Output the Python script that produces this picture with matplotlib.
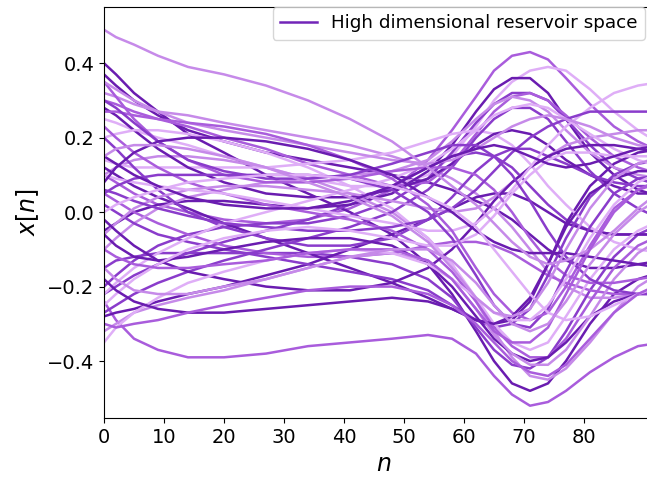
import matplotlib
matplotlib.use('Agg')
import matplotlib.pyplot as plt

# 샘플 위치 (n)
n_nodes = [0, 2, 5, 9, 14, 20, 27, 34, 41, 48, 54, 58, 62, 65, 68, 71, 74, 77, 81, 85, 89, 93]

# 색상 단계 (0 = 진한 보라 ... 4 = 연한 라벤더)
palette = ['#6a1cb0', '#8a3ccb', '#a95cdc', '#c68ae9', '#dfaef7']

# 위로 봉우리를 만드는 상태들
peak_states = [
    (2, [0.10, 0.08, 0.05, 0.02, 0.00, -0.02, -0.03, -0.02, 0.01, 0.06, 0.14, 0.22, 0.31, 0.38, 0.42, 0.43, 0.41, 0.36, 0.29, 0.23, 0.19, 0.16]),
    (4, [0.25, 0.24, 0.22, 0.20, 0.18, 0.15, 0.12, 0.09, 0.07, 0.07, 0.10, 0.15, 0.23, 0.30, 0.35, 0.38, 0.39, 0.38, 0.33, 0.27, 0.22, 0.18]),
    (0, [-0.05, -0.03, 0.00, 0.02, 0.03, 0.03, 0.02, 0.01, 0.02, 0.05, 0.11, 0.18, 0.27, 0.33, 0.36, 0.36, 0.32, 0.25, 0.16, 0.10, 0.06, 0.04]),
    (1, [-0.20, -0.17, -0.13, -0.09, -0.06, -0.04, -0.03, -0.03, -0.01, 0.03, 0.09, 0.16, 0.24, 0.29, 0.32, 0.32, 0.30, 0.25, 0.18, 0.12, 0.09, 0.07]),
    (2, [0.30, 0.29, 0.27, 0.25, 0.23, 0.20, 0.17, 0.13, 0.10, 0.07, 0.08, 0.13, 0.21, 0.27, 0.31, 0.32, 0.30, 0.26, 0.20, 0.15, 0.12, 0.10]),
    (3, [-0.10, -0.07, -0.03, 0.01, 0.04, 0.06, 0.08, 0.09, 0.10, 0.11, 0.14, 0.19, 0.25, 0.29, 0.31, 0.30, 0.27, 0.22, 0.16, 0.12, 0.10, 0.09]),
    (0, [0.28, 0.26, 0.22, 0.17, 0.12, 0.08, 0.05, 0.04, 0.04, 0.06, 0.09, 0.13, 0.18, 0.21, 0.22, 0.21, 0.18, 0.14, 0.10, 0.07, 0.05, 0.05]),
    (1, [-0.27, -0.25, -0.22, -0.19, -0.16, -0.13, -0.10, -0.07, -0.04, 0.00, 0.06, 0.12, 0.20, 0.25, 0.28, 0.28, 0.25, 0.19, 0.11, 0.05, 0.01, -0.02]),
    (4, [-0.22, -0.19, -0.15, -0.11, -0.07, -0.03, 0.00, 0.03, 0.06, 0.09, 0.13, 0.17, 0.22, 0.26, 0.28, 0.29, 0.28, 0.25, 0.21, 0.17, 0.14, 0.12]),
    (4, [0.10, 0.09, 0.08, 0.07, 0.06, 0.05, 0.03, 0.01, -0.01, -0.03, -0.05, -0.05, -0.03, 0.01, 0.06, 0.12, 0.18, 0.23, 0.28, 0.32, 0.34, 0.35]),
    (1, [0.06, 0.05, 0.03, 0.01, -0.01, -0.03, -0.04, -0.05, -0.05, -0.04, -0.02, 0.01, 0.06, 0.11, 0.16, 0.20, 0.23, 0.25, 0.27, 0.27, 0.27, 0.27]),
    (3, [0.35, 0.33, 0.30, 0.27, 0.24, 0.22, 0.20, 0.18, 0.16, 0.14, 0.13, 0.14, 0.17, 0.20, 0.23, 0.25, 0.26, 0.25, 0.23, 0.20, 0.18, 0.17]),
    (0, [0.15, 0.13, 0.10, 0.07, 0.04, 0.02, 0.01, 0.01, 0.03, 0.07, 0.12, 0.15, 0.17, 0.18, 0.17, 0.15, 0.13, 0.12, 0.13, 0.15, 0.17, 0.18]),
]

# 아래로 골짜기를 만드는 상태들
trough_states = [
    (2, [-0.24, -0.29, -0.34, -0.37, -0.39, -0.39, -0.38, -0.36, -0.35, -0.34, -0.33, -0.34, -0.38, -0.44, -0.49, -0.52, -0.51, -0.48, -0.43, -0.39, -0.36, -0.35]),
    (0, [0.40, 0.37, 0.32, 0.27, 0.21, 0.16, 0.10, 0.05, 0.00, -0.06, -0.14, -0.22, -0.32, -0.40, -0.46, -0.48, -0.46, -0.40, -0.30, -0.22, -0.18, -0.16]),
    (3, [0.10, 0.12, 0.14, 0.15, 0.15, 0.14, 0.12, 0.09, 0.05, 0.00, -0.07, -0.14, -0.24, -0.32, -0.39, -0.44, -0.45, -0.42, -0.35, -0.27, -0.20, -0.16]),
    (1, [-0.15, -0.13, -0.12, -0.11, -0.11, -0.11, -0.11, -0.11, -0.12, -0.14, -0.18, -0.23, -0.31, -0.37, -0.41, -0.42, -0.39, -0.32, -0.21, -0.12, -0.06, -0.03]),
    (0, [0.12, 0.10, 0.07, 0.04, 0.01, -0.03, -0.07, -0.11, -0.15, -0.19, -0.23, -0.26, -0.29, -0.30, -0.29, -0.24, -0.14, -0.03, 0.07, 0.13, 0.16, 0.17]),
    (1, [0.02, 0.00, -0.03, -0.06, -0.08, -0.10, -0.12, -0.14, -0.16, -0.18, -0.21, -0.25, -0.29, -0.31, -0.30, -0.26, -0.17, -0.07, 0.04, 0.10, 0.13, 0.14]),
    (4, [0.20, 0.21, 0.22, 0.22, 0.21, 0.19, 0.16, 0.12, 0.07, 0.01, -0.07, -0.14, -0.23, -0.30, -0.35, -0.37, -0.35, -0.28, -0.18, -0.10, -0.05, -0.02]),
    (2, [0.23, 0.20, 0.16, 0.12, 0.08, 0.05, 0.02, 0.00, -0.02, -0.05, -0.10, -0.16, -0.24, -0.31, -0.36, -0.39, -0.39, -0.34, -0.24, -0.15, -0.09, -0.06]),
    (0, [-0.06, -0.09, -0.12, -0.13, -0.12, -0.10, -0.08, -0.07, -0.07, -0.09, -0.14, -0.20, -0.28, -0.34, -0.38, -0.40, -0.39, -0.35, -0.28, -0.24, -0.22, -0.21]),
    (3, [-0.32, -0.30, -0.27, -0.25, -0.23, -0.21, -0.18, -0.15, -0.12, -0.11, -0.13, -0.18, -0.26, -0.33, -0.38, -0.41, -0.41, -0.37, -0.28, -0.18, -0.11, -0.07]),
    (1, [0.05, 0.07, 0.09, 0.10, 0.10, 0.10, 0.10, 0.10, 0.09, 0.06, 0.00, -0.07, -0.17, -0.25, -0.30, -0.31, -0.26, -0.16, -0.04, 0.05, 0.09, 0.10]),
    (2, [0.27, 0.27, 0.26, 0.25, 0.24, 0.23, 0.21, 0.18, 0.14, 0.09, 0.02, -0.05, -0.15, -0.22, -0.27, -0.29, -0.27, -0.20, -0.09, 0.01, 0.06, 0.08]),
    (4, [-0.35, -0.31, -0.27, -0.23, -0.19, -0.16, -0.13, -0.11, -0.10, -0.11, -0.14, -0.18, -0.23, -0.27, -0.29, -0.29, -0.25, -0.18, -0.07, 0.02, 0.08, 0.11]),
    (0, [-0.18, -0.21, -0.24, -0.26, -0.27, -0.27, -0.26, -0.25, -0.24, -0.23, -0.24, -0.26, -0.29, -0.30, -0.28, -0.23, -0.14, -0.04, 0.05, 0.09, 0.11, 0.11]),
    (3, [0.15, 0.17, 0.18, 0.18, 0.17, 0.15, 0.12, 0.08, 0.04, -0.01, -0.08, -0.15, -0.23, -0.27, -0.28, -0.26, -0.19, -0.10, 0.01, 0.09, 0.13, 0.15]),
    (2, [-0.10, -0.12, -0.14, -0.15, -0.15, -0.14, -0.13, -0.11, -0.10, -0.10, -0.13, -0.18, -0.26, -0.32, -0.35, -0.35, -0.31, -0.22, -0.10, 0.00, 0.06, 0.09]),
    (3, [-0.15, -0.18, -0.21, -0.22, -0.22, -0.20, -0.18, -0.15, -0.12, -0.10, -0.10, -0.13, -0.19, -0.25, -0.30, -0.32, -0.30, -0.24, -0.14, -0.06, 0.00, 0.04]),
    (2, [-0.30, -0.31, -0.30, -0.29, -0.27, -0.25, -0.23, -0.21, -0.20, -0.20, -0.22, -0.25, -0.30, -0.35, -0.40, -0.43, -0.44, -0.41, -0.34, -0.27, -0.22, -0.19]),
]

# 완만하게 움직이는 상태들
flat_states = [
    (0, [0.37, 0.34, 0.30, 0.26, 0.22, 0.19, 0.16, 0.14, 0.12, 0.10, 0.08, 0.06, 0.03, 0.01, -0.02, -0.06, -0.10, -0.13, -0.15, -0.15, -0.14, -0.13]),
    (1, [-0.22, -0.20, -0.17, -0.14, -0.11, -0.08, -0.05, -0.02, 0.02, 0.07, 0.12, 0.15, 0.16, 0.15, 0.12, 0.07, 0.02, -0.02, -0.05, -0.06, -0.06, -0.06]),
    (3, [0.32, 0.31, 0.29, 0.27, 0.26, 0.24, 0.22, 0.20, 0.18, 0.15, 0.12, 0.09, 0.05, 0.01, -0.04, -0.10, -0.16, -0.20, -0.23, -0.23, -0.22, -0.21]),
    (2, [0.05, 0.03, 0.00, -0.03, -0.06, -0.09, -0.11, -0.12, -0.12, -0.11, -0.09, -0.08, -0.08, -0.09, -0.11, -0.14, -0.17, -0.19, -0.21, -0.22, -0.22, -0.22]),
    (0, [-0.28, -0.27, -0.26, -0.24, -0.22, -0.20, -0.17, -0.14, -0.10, -0.06, -0.02, 0.01, 0.04, 0.05, 0.05, 0.03, 0.00, -0.03, -0.05, -0.06, -0.06, -0.06]),
    (4, [0.14, 0.13, 0.12, 0.12, 0.12, 0.12, 0.12, 0.13, 0.14, 0.16, 0.19, 0.21, 0.22, 0.21, 0.18, 0.13, 0.07, 0.02, -0.04, -0.08, -0.10, -0.11]),
    (1, [0.20, 0.17, 0.12, 0.06, 0.00, -0.04, -0.07, -0.09, -0.09, -0.07, -0.02, 0.04, 0.11, 0.15, 0.17, 0.17, 0.15, 0.13, 0.10, 0.08, 0.07, 0.07]),
    (3, [-0.06, -0.03, 0.01, 0.04, 0.06, 0.07, 0.07, 0.06, 0.05, 0.03, 0.01, 0.00, 0.01, 0.04, 0.08, 0.12, 0.15, 0.18, 0.20, 0.21, 0.22, 0.22]),
    (0, [-0.02, -0.05, -0.09, -0.13, -0.16, -0.18, -0.20, -0.21, -0.21, -0.19, -0.15, -0.10, -0.03, 0.03, 0.08, 0.12, 0.15, 0.17, 0.18, 0.18, 0.17, 0.16]),
    (2, [0.35, 0.31, 0.25, 0.19, 0.14, 0.10, 0.08, 0.08, 0.09, 0.11, 0.12, 0.12, 0.10, 0.06, 0.00, -0.07, -0.13, -0.17, -0.19, -0.19, -0.18, -0.17]),
    (4, [-0.25, -0.22, -0.18, -0.14, -0.10, -0.07, -0.05, -0.04, -0.05, -0.07, -0.09, -0.09, -0.06, -0.01, 0.05, 0.10, 0.14, 0.16, 0.16, 0.15, 0.15, 0.15]),
    (1, [0.30, 0.28, 0.24, 0.19, 0.14, 0.11, 0.09, 0.09, 0.10, 0.13, 0.16, 0.18, 0.18, 0.15, 0.10, 0.03, -0.05, -0.12, -0.18, -0.21, -0.22, -0.22]),
    (0, [0.08, 0.12, 0.16, 0.19, 0.20, 0.20, 0.19, 0.17, 0.14, 0.10, 0.04, 0.00, -0.05, -0.08, -0.10, -0.11, -0.11, -0.11, -0.12, -0.13, -0.14, -0.15]),
    (4, [0.00, 0.02, 0.04, 0.06, 0.08, 0.09, 0.10, 0.10, 0.09, 0.07, 0.04, 0.01, -0.04, -0.10, -0.16, -0.22, -0.27, -0.29, -0.28, -0.25, -0.22, -0.20]),
    (3, [0.49, 0.47, 0.45, 0.42, 0.39, 0.37, 0.34, 0.30, 0.25, 0.19, 0.12, 0.07, 0.02, -0.03, -0.08, -0.12, -0.14, -0.13, -0.10, -0.05, 0.01, 0.06]),
]

legend_label = 'High dimensional reservoir space'


def main():
    fig = plt.figure(figsize=(6.47, 4.79), dpi=100)
    # 오른쪽 끝은 그림 밖으로 잘려 나가도록 축을 넓게 잡음
    ax = fig.add_axes([104 / 647, 61 / 479, 560 / 647, 411 / 479])

    # 세 그룹을 번갈아 그려서 색이 골고루 겹치도록
    order = []
    for i in range(max(len(peak_states), len(trough_states), len(flat_states))):
        for group in (peak_states, trough_states, flat_states):
            if i < len(group):
                order.append(group[i])

    for c_idx, values in order:
        ax.plot(n_nodes, values, color=palette[c_idx], lw=1.8,
                solid_capstyle='round', solid_joinstyle='round')

    # 범례용 선
    ax.plot([], [], color='#7225b8', lw=1.8, label=legend_label)

    ax.set_xlim(0, 560 / 6.0)
    ax.set_ylim(-0.553, 0.551)
    ax.set_xticks([0, 10, 20, 30, 40, 50, 60, 70, 80])
    ax.set_yticks([-0.4, -0.2, 0.0, 0.2, 0.4])
    ax.tick_params(labelsize=14)
    ax.set_xlabel('$n$', fontsize=17)
    ax.set_ylabel('$x[n]$', fontsize=17)

    ax.legend(loc='upper right', bbox_to_anchor=(645 / 647, 472 / 479),
              bbox_transform=fig.transFigure, borderaxespad=0, fontsize=13.2)

    fig.savefig('out.png', dpi=100)


if __name__ == '__main__':
    main()
